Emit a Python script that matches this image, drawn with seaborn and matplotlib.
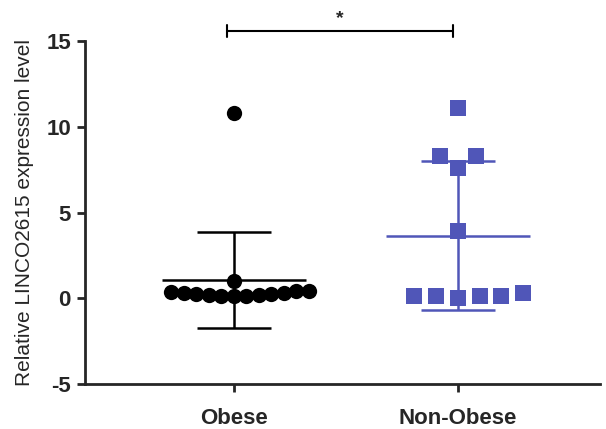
import numpy as np
import pandas as pd
import seaborn as sns
import matplotlib.pyplot as plt

# values
groups = ['Obese', 'Non-Obese']
obese_vals = [10.8, 1.0, 0.45, 0.35, 0.28, 0.22, 0.18, 0.15, 0.12, 0.16, 0.2, 0.25, 0.3, 0.4]
nonobese_vals = [11.1, 8.3, 8.3, 7.6, 3.9, 0.15, 0.15, 0.0, 0.12, 0.15, 0.3]
y_ticks = [-5, 0, 5, 10, 15]

colors = {'Obese': 'black', 'Non-Obese': '#5056b8'}
markers = {'Obese': 'o', 'Non-Obese': 's'}
layout_size = {'Obese': 8.6, 'Non-Obese': 15}   # spacing used for the swarm
marker_size = {'Obese': 11, 'Non-Obese': 11}   # size actually drawn

df = pd.DataFrame({
    'group': ['Obese'] * len(obese_vals) + ['Non-Obese'] * len(nonobese_vals),
    'value': obese_vals + nonobese_vals,
})

sns.set_style('ticks')
plt.rcParams['font.family'] = ['Liberation Sans', 'DejaVu Sans']

fig = plt.figure(figsize=(6.06, 4.29), dpi=100)
ax = fig.add_axes([0.14, 0.105, 0.85, 0.799])

swarms = {}
for i, g in enumerate(groups):
    sub = df[df.group == g]
    n_before = len(ax.collections)
    sns.swarmplot(data=sub, x='group', y='value', order=groups, ax=ax,
                  color=colors[g], marker=markers[g], size=layout_size[g],
                  linewidth=0, zorder=3)
    # seaborn also adds empty collections for the other category
    swarms[g] = [c for c in ax.collections[n_before:] if len(c.get_offsets())]
    m = sub.value.mean()
    sd = sub.value.std()
    c = colors[g]
    ax.hlines(m, i - 0.32, i + 0.32, color=c, lw=1.8, zorder=2)
    ax.vlines(i, m - sd, m + sd, color=c, lw=1.8, zorder=2)
    ax.hlines([m - sd, m + sd], i - 0.165, i + 0.165, color=c, lw=1.8, zorder=2)

ax.set_xlim(-0.665, 1.634)
ax.set_ylim(-5, 15)
ax.set_yticks(y_ticks)
ax.set_yticklabels([str(t) for t in y_ticks], fontsize=16, fontweight='bold')
ax.set_xticks([0, 1])
ax.set_xticklabels(groups, fontsize=16, fontweight='bold')
ax.set_xlabel('')
ax.set_ylabel('Relative LINCO2615 expression level', fontsize=15, labelpad=9)

sns.despine(ax=ax)
for s in ['left', 'bottom']:
    ax.spines[s].set_linewidth(2)
ax.tick_params(axis='both', width=2, length=6, pad=4)
ax.tick_params(axis='x', pad=11)

# significance bracket
yb = 15.6
ax.plot([-0.03, 0.98], [yb, yb], color='black', lw=1.5, clip_on=False)
ax.plot([-0.03, -0.03], [yb - 0.35, yb + 0.35], color='black', lw=1.5, clip_on=False)
ax.plot([0.98, 0.98], [yb - 0.35, yb + 0.35], color='black', lw=1.5, clip_on=False)
ax.text(0.475, yb + 0.2, '*', ha='center', va='bottom', fontsize=14, fontweight='bold')

# lay out the swarms, then freeze them and set the drawn marker size
fig.canvas.draw()
for g, colls in swarms.items():
    for coll in colls:
        if 'draw' in coll.__dict__:
            del coll.draw
        coll.set_sizes([marker_size[g] ** 2])

fig.savefig('out.png', dpi=100)
